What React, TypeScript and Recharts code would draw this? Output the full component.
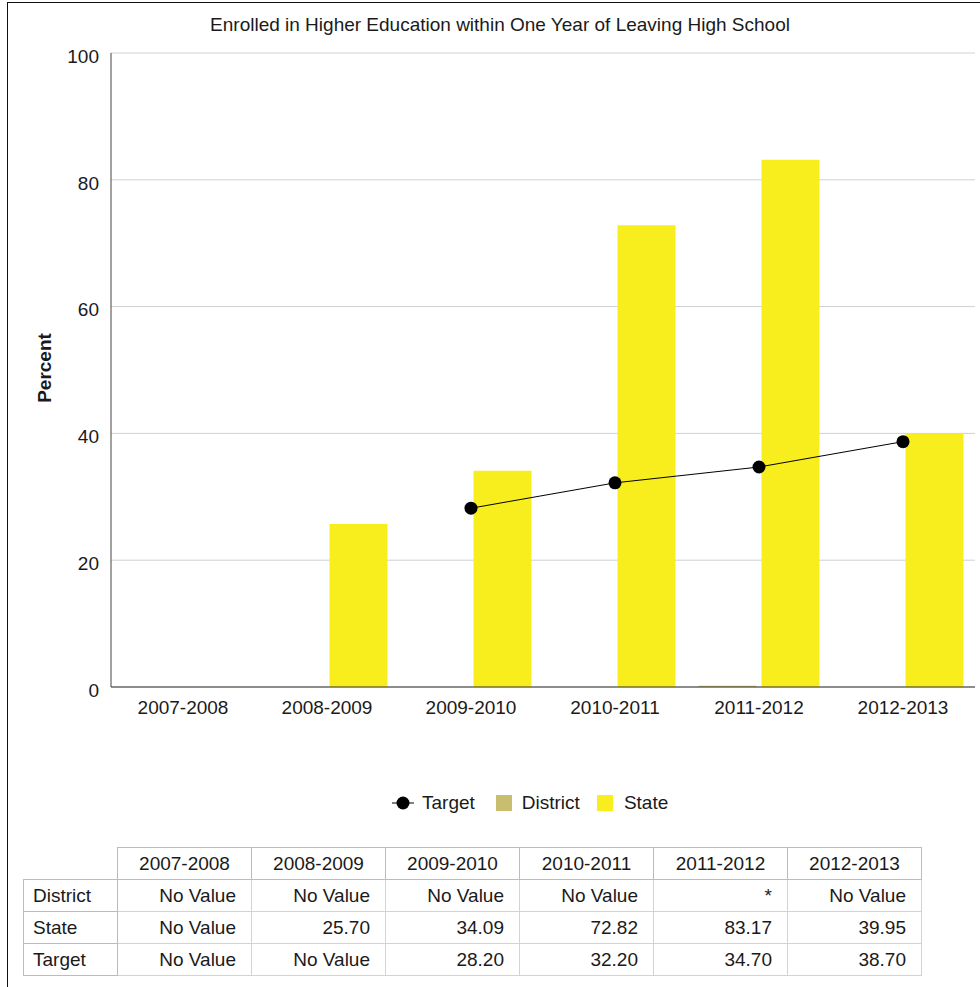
import React from 'react';
import { ComposedChart, Bar, Line, XAxis, YAxis, CartesianGrid, Legend, Customized } from 'recharts';

const years = ['2007-2008', '2008-2009', '2009-2010', '2010-2011', '2011-2012', '2012-2013'];
// district is suppressed ("*") in 2011-2012 and drawn as a sliver at zero
const districtValues: (number | null)[] = [null, null, null, null, 0.2, null];
const districtText = ['No Value', 'No Value', 'No Value', 'No Value', '*', 'No Value'];
const stateValues: (number | null)[] = [null, 25.7, 34.09, 72.82, 83.17, 39.95];
const targetValues: (number | null)[] = [null, null, 28.2, 32.2, 34.7, 38.7];
const yTicks = [0, 20, 40, 60, 80, 100];

const FONT = '"Liberation Sans", Arial, sans-serif';
const FS = 19;
const TEXT = '#1a1a1a';
const DISTRICT = '#c9bd6f';
const STATE = '#f8ee1e';
const BLUE = '#a9bfda';
const GRAY = '#d3d3d3';

const data = years.map((year, i) => ({
  year,
  district: districtValues[i],
  state: stateValues[i],
  target: targetValues[i],
}));

const fmt = (v: number | null) => (v == null ? 'No Value' : v.toFixed(2));

const tableRows = [
  { name: 'District', cells: districtText },
  { name: 'State', cells: stateValues.map(fmt) },
  { name: 'Target', cells: targetValues.map(fmt) },
];

function ChartLegend() {
  return (
    <div style={{ display: 'flex', alignItems: 'center', height: 24, paddingLeft: 392, fontFamily: FONT, fontSize: FS, color: TEXT }}>
      <svg width={22} height={14} style={{ marginRight: 8 }}>
        <line x1={0} y1={7} x2={22} y2={7} stroke="#000" strokeWidth={1} />
        <circle cx={11} cy={7} r={6.5} fill="#000" />
      </svg>
      <span style={{ marginRight: 21 }}>Target</span>
      <span style={{ width: 16, height: 16, background: DISTRICT, marginRight: 10 }} />
      <span style={{ marginRight: 17 }}>District</span>
      <span style={{ width: 16, height: 16, background: STATE, marginRight: 11 }} />
      <span>State</span>
    </div>
  );
}

function Titles() {
  return (
    <g fontFamily={FONT} fill={TEXT}>
      <text x={500} y={31} fontSize={FS} textAnchor="middle">
        Enrolled in Higher Education within One Year of Leaving High School
      </text>
      <text x={51} y={368} fontSize={FS} fontWeight="bold" textAnchor="middle" transform="rotate(-90 51 368)">
        Percent
      </text>
    </g>
  );
}

export default function App() {
  const th: React.CSSProperties = { border: `1px solid ${BLUE}`, fontWeight: 'normal', textAlign: 'center', height: 31, padding: 0 };
  const rh: React.CSSProperties = { border: `1px solid ${BLUE}`, textAlign: 'left', height: 31, padding: '0 9px' };
  const td: React.CSSProperties = { border: `1px solid ${GRAY}`, textAlign: 'right', height: 31, padding: '0 15px' };

  return (
    <div style={{ position: 'absolute', left: 0, top: 0, width: 980, height: 987, background: '#fff', overflow: 'hidden' }}>
      <div style={{ position: 'absolute', left: 7, top: 2, right: 0, bottom: 0, borderLeft: '1px solid #111', borderTop: '1px solid #111' }} />

      <div style={{ position: 'absolute', left: 0, top: 0 }}>
        <ComposedChart
          width={980}
          height={830}
          data={data}
          margin={{ top: 53, right: 5, bottom: 15, left: 0 }}
          barCategoryGap={11.5}
          barGap={5}
        >
          <CartesianGrid vertical={false} stroke="#d0d0d0" />
          <XAxis
            dataKey="year"
            height={104}
            tickLine={false}
            tickMargin={8}
            axisLine={{ stroke: '#333' }}
            tick={{ fill: TEXT, fontSize: FS, fontFamily: FONT }}
          />
          <YAxis
            width={111}
            domain={[0, 100]}
            ticks={yTicks}
            tickLine={false}
            tickMargin={6}
            axisLine={{ stroke: '#444' }}
            tick={{ fill: TEXT, fontSize: FS, fontFamily: FONT, dy: 3 }}
          />
          <Bar dataKey="district" name="District" fill={DISTRICT} isAnimationActive={false} />
          <Bar dataKey="state" name="State" fill={STATE} isAnimationActive={false} />
          <Line
            dataKey="target"
            name="Target"
            stroke="#000"
            strokeWidth={1}
            dot={{ r: 6.5, fill: '#000', stroke: 'none' }}
            activeDot={false}
            isAnimationActive={false}
          />
          <Legend verticalAlign="bottom" content={() => <ChartLegend />} />
          <Customized component={Titles} />
        </ComposedChart>
      </div>

      <table
        style={{
          position: 'absolute',
          left: 23,
          top: 847,
          borderCollapse: 'collapse',
          tableLayout: 'fixed',
          width: 898,
          fontFamily: FONT,
          fontSize: FS,
          color: TEXT,
        }}
      >
        <colgroup>
          <col style={{ width: 94 }} />
          {years.map((y) => (
            <col key={y} style={{ width: 134 }} />
          ))}
        </colgroup>
        <thead>
          <tr>
            <th style={{ border: 'none', height: 31, padding: 0 }} />
            {years.map((y) => (
              <th key={y} style={th}>
                {y}
              </th>
            ))}
          </tr>
        </thead>
        <tbody>
          {tableRows.map((row) => (
            <tr key={row.name}>
              <td style={rh}>{row.name}</td>
              {row.cells.map((c, i) => (
                <td key={i} style={td}>
                  {c}
                </td>
              ))}
            </tr>
          ))}
        </tbody>
      </table>
    </div>
  );
}
